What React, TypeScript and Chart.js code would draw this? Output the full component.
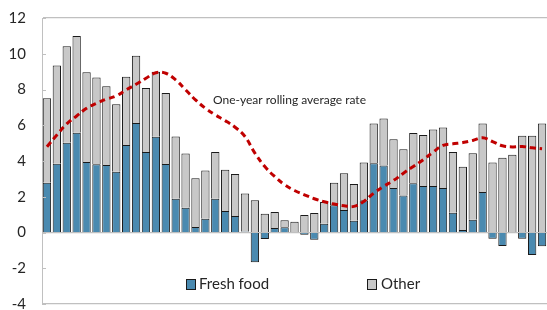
import React, { useEffect, useRef } from 'react';
import { Chart, registerables } from 'chart.js';

Chart.register(...registerables);

const categories = [
  '1', '2', '3', '4', '5', '6', '7', '8', '9', '10',
  '11', '12', '13', '14', '15', '16', '17', '18', '19', '20',
  '21', '22', '23', '24', '25', '26', '27', '28', '29', '30',
  '31', '32', '33', '34', '35', '36', '37', '38', '39', '40',
  '41', '42', '43', '44', '45', '46', '47', '48', '49', '50', '51',
];

const freshFood = [
  2.78, 3.84, 5.02, 5.58, 3.94, 3.82, 3.77, 3.40, 4.89, 6.13,
  4.50, 5.35, 3.83, 1.89, 1.39, 0.31, 0.77, 1.89, 1.20, 0.92,
  0.05, -1.67, -0.36, 0.25, 0.29, 0, -0.12, -0.40, 0.49, 1.53,
  1.26, 0.66, 1.81, 3.88, 3.75, 2.49, 2.07, 2.76, 2.60, 2.60,
  2.49, 1.10, 0.14, 0.72, 2.26, -0.35, -0.75, 0, -0.35, -1.26, -0.77,
];

const other = [
  4.73, 5.50, 5.40, 5.41, 5.03, 4.85, 4.41, 3.78, 3.83, 3.76,
  3.59, 3.65, 3.98, 3.48, 3.03, 2.73, 2.70, 2.61, 2.31, 2.35,
  2.13, 1.81, 1.05, 0.89, 0.39, 0.60, 0.98, 1.09, 1.21, 1.25,
  2.06, 2.05, 2.11, 2.22, 2.63, 2.73, 2.59, 2.80, 2.86, 3.16,
  3.38, 3.41, 3.54, 3.72, 3.84, 3.92, 4.18, 4.35, 5.41, 5.41, 6.10,
];

const rollingAverage = [
  4.80, 5.46, 6.08, 6.52, 6.95, 7.23, 7.46, 7.64, 7.98, 8.29,
  8.63, 8.94, 8.91, 8.54, 7.98, 7.42, 6.95, 6.58, 6.26, 5.89,
  5.37, 4.44, 3.69, 3.13, 2.67, 2.35, 2.11, 1.89, 1.72, 1.59,
  1.50, 1.46, 1.74, 2.20, 2.58, 2.91, 3.32, 3.69, 4.07, 4.50,
  4.87, 4.96, 5.03, 5.15, 5.30, 5.09, 4.85, 4.79, 4.81, 4.74, 4.68,
];

const yMin = -4;
const yMax = 12;
const yStep = 2;

const seriesNames = ['Fresh food', 'Other', 'One-year rolling average rate'];

const FONT = 'Lato, "Open Sans", sans-serif';
const AXIS_GREY = '#c0c0c0';

const innerTicksPlugin = {
  id: 'innerTicks',
  afterDatasetsDraw(chart: any) {
    const y = chart.scales.y;
    const ctx = chart.ctx;
    ctx.save();
    ctx.strokeStyle = AXIS_GREY;
    ctx.lineWidth = 1;
    y.ticks.forEach((t: any) => {
      const py = Math.round(y.getPixelForValue(t.value)) + 0.5;
      ctx.beginPath();
      ctx.moveTo(y.right, py);
      ctx.lineTo(y.right + 4, py);
      ctx.stroke();
    });
    ctx.restore();
  },
};

const customLegendPlugin = {
  id: 'customLegend',
  afterDraw(chart: any) {
    const ctx = chart.ctx;
    const ds = chart.data.datasets;
    const items = [
      { ds: ds[0], x: 186, textX: 199 },
      { ds: ds[1], x: 367, textX: 381 },
    ];
    ctx.save();
    ctx.font = `15px ${FONT}`;
    ctx.textBaseline = 'middle';
    items.forEach((it) => {
      ctx.fillStyle = it.ds.backgroundColor;
      ctx.fillRect(it.x, 279, 9, 10);
      ctx.strokeStyle = '#1a1a1a';
      ctx.lineWidth = 1;
      ctx.strokeRect(it.x + 0.5, 279.5, 9, 10);
      ctx.fillStyle = '#262626';
      ctx.fillText(it.ds.label, it.textX, 284.5);
    });
    ctx.restore();
  },
};

const lineLabelPlugin = {
  id: 'lineLabel',
  afterDraw(chart: any) {
    const ctx = chart.ctx;
    ctx.save();
    ctx.font = `12px ${FONT}`;
    ctx.fillStyle = '#262626';
    ctx.textBaseline = 'middle';
    ctx.fillText(chart.data.datasets[2].label, 213, 100);
    ctx.restore();
  },
};

export default function App() {
  const ref = useRef<HTMLCanvasElement | null>(null);

  useEffect(() => {
    if (!ref.current) return;
    const chart = new Chart(ref.current, {
      type: 'bar',
      data: {
        labels: categories,
        datasets: [
          {
            type: 'bar',
            label: seriesNames[0],
            data: freshFood,
            backgroundColor: '#4a8ab0',
            borderColor: '#1a1a1a',
            borderWidth: 1,
            barPercentage: 0.84,
            categoryPercentage: 1,
            stack: 'bars',
            order: 1,
          },
          {
            type: 'bar',
            label: seriesNames[1],
            data: other,
            backgroundColor: '#c8c8c8',
            borderColor: '#1a1a1a',
            borderWidth: 1,
            barPercentage: 0.84,
            categoryPercentage: 1,
            stack: 'bars',
            order: 1,
          },
          {
            type: 'line',
            label: seriesNames[2],
            data: rollingAverage,
            borderColor: '#c00000',
            borderWidth: 3,
            borderDash: [6, 4],
            pointRadius: 0,
            tension: 0.4,
            fill: false,
            stack: 'line',
            order: 0,
          } as any,
        ],
      },
      options: {
        responsive: false,
        animation: false,
        devicePixelRatio: 1,
        layout: { padding: { top: 18, right: 0, bottom: 6, left: 0 } },
        plugins: {
          legend: { display: false },
          tooltip: { enabled: false },
          title: { display: false },
        },
        scales: {
          x: {
            stacked: true,
            display: false,
          },
          y: {
            stacked: true,
            min: yMin,
            max: yMax,
            ticks: {
              stepSize: yStep,
              padding: 16,
              color: '#262626',
              font: { family: FONT, size: 15 },
            },
            border: { display: true, color: AXIS_GREY, width: 1 },
            grid: {
              drawTicks: false,
              lineWidth: 1.2,
              color: (c: any) => {
                const v = c.tick ? c.tick.value : null;
                return v === 0 || v === yMax || v === yMin ? AXIS_GREY : 'rgba(0,0,0,0)';
              },
            },
            afterFit: (scale: any) => {
              scale.width = 42;
              scale.paddingTop = 0;
              scale.paddingBottom = 0;
            },
          },
        },
      },
      plugins: [innerTicksPlugin, customLegendPlugin, lineLabelPlugin],
    });
    return () => chart.destroy();
  }, []);

  return (
    <div style={{ position: 'fixed', left: 0, top: 0, width: 547, height: 310, background: '#fff' }}>
      <canvas ref={ref} width={547} height={310} />
    </div>
  );
}
